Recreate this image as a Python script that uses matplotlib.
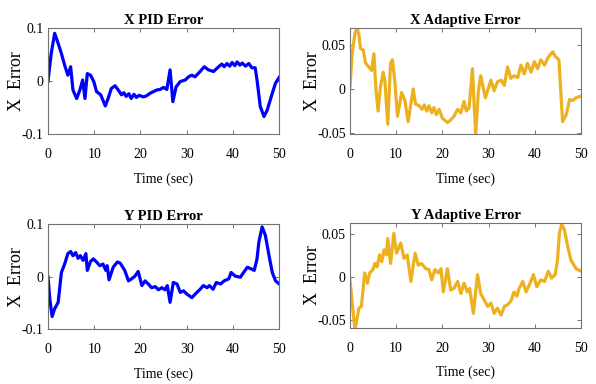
import matplotlib
matplotlib.use('Agg')
import matplotlib.pyplot as plt

# X PID error
t_xpid = [0, 0.7, 1.45, 2.2, 2.9, 3.6, 4.3, 4.9, 5.4, 6.2, 6.9, 7.5, 8.0, 8.5, 9.2, 9.9,
          10.5, 11.4, 12.4, 13.0, 13.7, 14.5, 15.2, 15.9, 16.4, 16.9, 17.5, 18.0, 18.6,
          19.1, 19.7, 20.6, 21.3, 22.1, 22.8, 23.5, 24.2, 25.0, 25.7, 26.4, 27.0, 27.7,
          28.6, 29.7, 30.4, 31.1, 31.8, 32.9, 33.8, 34.7, 35.8, 36.9, 37.6, 38.1, 38.7,
          39.3, 39.8, 40.4, 40.9, 41.5, 42.0, 42.7, 43.4, 44.1, 44.8, 45.2, 45.9, 46.7,
          47.4, 48.5, 49.2, 50]
e_xpid = [0, 0.052, 0.09, 0.071, 0.052, 0.030, 0.011, 0.027, -0.017, -0.033, -0.017,
          0.002, -0.033, 0.014, 0.011, -0.001, -0.020, -0.026, -0.047, -0.033, -0.014,
          -0.009, -0.017, -0.026, -0.022, -0.029, -0.024, -0.033, -0.025, -0.031, -0.027,
          -0.030, -0.028, -0.023, -0.020, -0.017, -0.016, -0.012, -0.016, 0.021, -0.039,
          -0.011, -0.001, 0.002, 0.008, 0.011, 0.008, 0.018, 0.027, 0.021, 0.018, 0.027,
          0.032, 0.027, 0.033, 0.028, 0.035, 0.029, 0.036, 0.030, 0.034, 0.028, 0.033,
          0.025, 0.025, 0.002, -0.048, -0.067, -0.055, -0.023, -0.004, 0.007]

# X adaptive error
t_xad = [0, 0.5, 1.1, 1.6, 2.0, 2.3, 2.9, 3.4, 4.1, 4.7, 5.2, 5.6, 6.1, 6.6, 7.2, 7.6,
         8.2, 8.8, 9.2, 9.7, 10.3, 11.2, 11.9, 12.6, 13.7, 14.2, 15.0, 15.6, 16.1, 16.6,
         17.1, 17.7, 18.2, 18.7, 19.3, 20.0, 21.1, 21.8, 22.5, 23.3, 24.0, 24.7, 25.2,
         25.8, 26.5, 27.2, 27.8, 28.3, 29.3, 30.5, 31.2, 31.9, 32.7, 33.4, 34.1, 34.8,
         35.5, 36.3, 37.0, 37.7, 38.4, 39.2, 39.9, 40.6, 41.3, 42.1, 42.8, 43.5, 43.9,
         44.4, 45.2, 46.0, 46.8, 47.5, 48.2, 48.9, 50]
e_xad = [0, 0.040, 0.063, 0.069, 0.060, 0.046, 0.044, 0.029, 0.025, 0.021, 0.040, 0.002,
         -0.025, 0.002, 0.019, 0.008, -0.040, 0.029, 0.033, 0.010, -0.031, -0.004, -0.013,
         -0.037, 0.0, -0.017, -0.019, -0.023, -0.018, -0.025, -0.019, -0.027, -0.021,
         -0.029, -0.023, -0.033, -0.038, -0.035, -0.031, -0.023, -0.027, -0.014, -0.025,
         -0.021, 0.023, -0.052, -0.002, 0.015, -0.010, 0.010, -0.002, 0.008, 0.010, 0.004,
         0.025, 0.012, 0.015, 0.013, 0.027, 0.017, 0.029, 0.019, 0.031, 0.023, 0.033,
         0.027, 0.035, 0.040, 0.042, 0.037, 0.033, -0.037, -0.029, -0.012, -0.013, -0.010,
         -0.008]

# Y PID error
t_ypid = [0, 0.4, 0.9, 1.4, 2.2, 2.9, 3.6, 4.3, 4.9, 5.4, 6.0, 6.5, 7.0, 7.6, 8.2, 8.5,
          9.2, 9.8, 10.5, 11.2, 11.9, 12.5, 12.8, 13.2, 14.1, 15.0, 15.6, 16.6, 17.4, 18.1,
          18.8, 19.5, 20.3, 21.0, 21.7, 22.4, 23.2, 23.9, 24.6, 25.3, 25.8, 26.4, 27.1,
          27.9, 28.6, 29.3, 30.0, 31.1, 32.2, 32.9, 33.6, 34.4, 34.9, 35.7, 36.4, 37.3,
          38.1, 39.1, 39.6, 40.5, 41.6, 42.3, 43.1, 43.9, 44.6, 45.2, 45.6, 46.3, 47.0,
          47.8, 48.5, 49.2, 50]
e_ypid = [0, -0.043, -0.076, -0.062, -0.049, 0.008, 0.024, 0.044, 0.048, 0.040, 0.046,
          0.035, 0.040, 0.031, 0.044, 0.012, 0.029, 0.034, 0.028, 0.021, 0.024, 0.012,
          0.021, -0.006, 0.018, 0.028, 0.026, 0.012, -0.008, -0.004, 0.001, 0.010, -0.017,
          -0.008, -0.014, -0.021, -0.019, -0.025, -0.021, -0.025, -0.017, -0.049, -0.011,
          -0.014, -0.030, -0.027, -0.033, -0.040, -0.030, -0.024, -0.017, -0.021, -0.017,
          -0.024, -0.011, -0.014, -0.008, -0.004, 0.008, 0.001, -0.001, 0.008, 0.018,
          0.015, 0.012, 0.034, 0.066, 0.095, 0.079, 0.040, 0.008, -0.008, -0.014]

# Y adaptive error
t_yad = [0, 0.5, 1.1, 1.4, 1.95, 2.5, 3.2, 3.8, 4.3, 5.0, 5.4, 5.9, 6.4, 6.9, 7.4, 7.9,
         8.2, 8.8, 9.5, 10.1, 11.0, 11.7, 12.4, 13.2, 14.1, 14.8, 15.5, 16.4, 17.1, 17.7,
         18.4, 19.1, 19.7, 20.2, 21.1, 21.8, 22.5, 23.3, 24.0, 24.7, 25.4, 25.9, 26.7,
         27.6, 28.3, 29.0, 29.8, 30.5, 31.2, 31.9, 32.7, 33.4, 34.1, 34.8, 35.5, 36.1,
         36.6, 37.4, 38.1, 38.8, 39.7, 40.4, 41.3, 42.1, 42.9, 43.6, 44.4, 44.9, 45.3,
         45.8, 46.4, 47.1, 47.8, 48.9, 50]
e_yad = [-0.001, -0.030, -0.061, -0.053, -0.036, -0.034, 0.005, -0.007, 0.005, 0.009,
         0.016, 0.012, 0.026, 0.018, 0.032, 0.026, 0.045, 0.016, 0.051, 0.028, 0.040,
         0.022, 0.026, -0.005, 0.028, 0.014, 0.016, 0.010, 0.009, -0.003, 0.009, 0.005,
         0.010, -0.017, 0.010, -0.015, -0.013, -0.005, -0.019, -0.007, -0.017, -0.013,
         -0.042, 0.003, -0.019, -0.026, -0.034, -0.030, -0.042, -0.036, -0.044, -0.034,
         -0.032, -0.028, -0.017, -0.022, -0.013, -0.005, -0.017, -0.009, 0.003, -0.011,
         -0.003, -0.005, 0.007, -0.001, 0.003, 0.020, 0.051, 0.062, 0.055, 0.036, 0.020,
         0.010, 0.007]

blue = '#0000FF'
gold = '#EDB120'
serif = ['Liberation Serif', 'DejaVu Serif']

panels = [
    ('X PID Error', t_xpid, e_xpid, blue, (-0.1, 0.1), [-0.1, 0, 0.1], ['-0.1', '0', '0.1'],
     [0.0805, 0.651, 0.388, 0.276], -0.10),
    ('X Adaptive Error', t_xad, e_xad, gold, (-0.051, 0.069), [-0.05, 0, 0.05],
     ['-0.05', '0', '0.05'], [0.587, 0.651, 0.388, 0.276], -0.125),
    ('Y PID Error', t_ypid, e_ypid, blue, (-0.1, 0.1), [-0.1, 0, 0.1], ['-0.1', '0', '0.1'],
     [0.0805, 0.143, 0.388, 0.273], -0.10),
    ('Y Adaptive Error', t_yad, e_yad, gold, (-0.059, 0.063), [-0.05, 0, 0.05],
     ['-0.05', '0', '0.05'], [0.587, 0.146, 0.388, 0.273], -0.125),
]

fig = plt.figure(figsize=(5.96, 3.84), dpi=100)

for title, t, e, col, ylim, yt, ytl, pos, ylx in panels:
    ax = fig.add_axes(pos)
    ax.plot(t, e, '-', lw=2.3, color=col)
    ax.set_xlim(0, 50)
    ax.set_ylim(*ylim)
    ax.set_xticks([0, 10, 20, 30, 40, 50])
    ax.set_xticklabels(['0', '10', '20', '30', '40', '50'], family=serif, fontsize=10)
    ax.set_yticks(yt)
    ax.set_yticklabels(ytl, family=serif, fontsize=10)
    ax.tick_params(direction='in', top=True, right=True, length=3, width=0.6,
                   color='0.35')
    ax.tick_params(axis='x', pad=10)
    ax.tick_params(axis='y', pad=3)
    for s in ax.spines.values():
        s.set_color('0.45')
        s.set_linewidth(0.8)
    ax.set_title(title, family=serif, fontsize=10.5, fontweight='bold', pad=3)
    ax.set_xlabel('Time (sec)', family=serif, fontsize=10, labelpad=8)
    ax.set_ylabel('X  Error', family=serif, fontsize=13)
    ax.yaxis.set_label_coords(ylx, 0.5)

fig.savefig('out.png', dpi=100)
